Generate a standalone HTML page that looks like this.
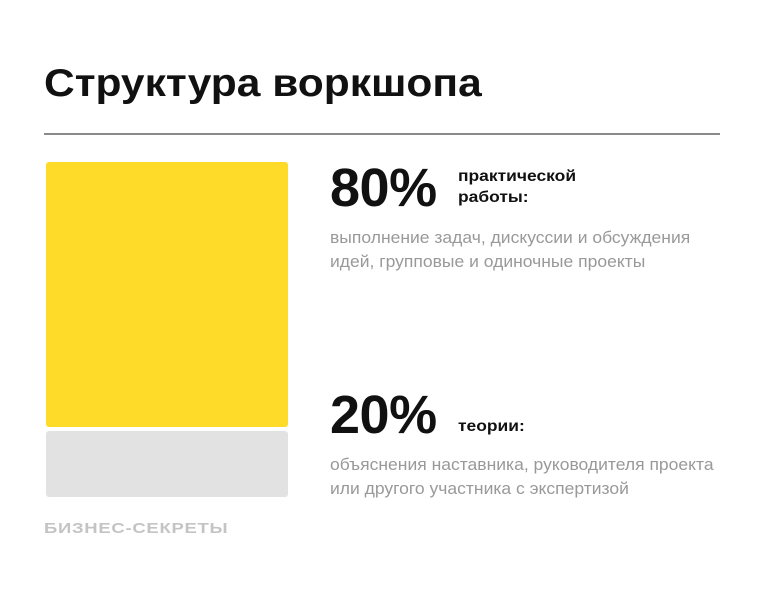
<!DOCTYPE html>
<html><head><meta charset="utf-8"><style>
body{margin:0;width:764px;height:602px;background:#fff;font-family:"Liberation Sans",sans-serif;position:relative;overflow:hidden}
.a{position:absolute;margin:0}
.title{left:44px;top:62px;font-size:39px;font-weight:bold;color:#111;letter-spacing:0px;transform:scaleX(1.09);transform-origin:left}
.rule{left:44px;top:133px;width:676px;height:2px;background:#8a8a8a}
.pct{font-size:54px;font-weight:bold;color:#111;letter-spacing:-0.5px;line-height:1}
.lbl{font-size:16px;font-weight:bold;color:#111;line-height:21px;transform:scaleX(1.09);transform-origin:left}
.desc{font-size:17px;color:#999;line-height:24px;white-space:nowrap;transform:scaleX(1.03);transform-origin:left}
.foot{left:44px;top:520px;font-size:15px;font-weight:bold;color:#c4c4c4;letter-spacing:0.6px;transform:scaleX(1.23);transform-origin:left}
.bar{position:absolute;left:46px;width:242px;border-radius:3px}
</style></head><body>
<h1 class="a title">Структура воркшопа</h1>
<div class="a rule"></div>
<div id="bars"></div>
<div class="a pct" style="left:330px;top:161px">80%</div>
<div class="a lbl" style="left:458px;top:166px">практической<br>работы:</div>
<div class="a desc" style="left:330px;top:226px">выполнение задач, дискуссии и обсуждения<br>идей, групповые и одиночные проекты</div>
<div class="a pct" style="left:330px;top:388px">20%</div>
<div class="a lbl" style="left:458px;top:416px">теории:</div>
<div class="a desc" style="left:330px;top:453px">объяснения наставника, руководителя проекта<br>или другого участника с экспертизой</div>
<div class="a foot">БИЗНЕС-СЕКРЕТЫ</div>
<script>
const categories=["practice","theory"];
const values=[80,20];
const colors=["#fedb28","#e2e2e2"];
const top0=162,total=331,gap=4;
const c=document.getElementById('bars');
let y=top0;
const sum=values.reduce((a,b)=>a+b,0);
values.forEach((v,i)=>{
 const h=v/sum*total;
 const d=document.createElement('div');
 d.className='bar';
 d.style.top=y+'px';d.style.height=h+'px';d.style.background=colors[i];
 
 
 c.appendChild(d);
 y+=h+gap;
});
</script>
</body></html>
